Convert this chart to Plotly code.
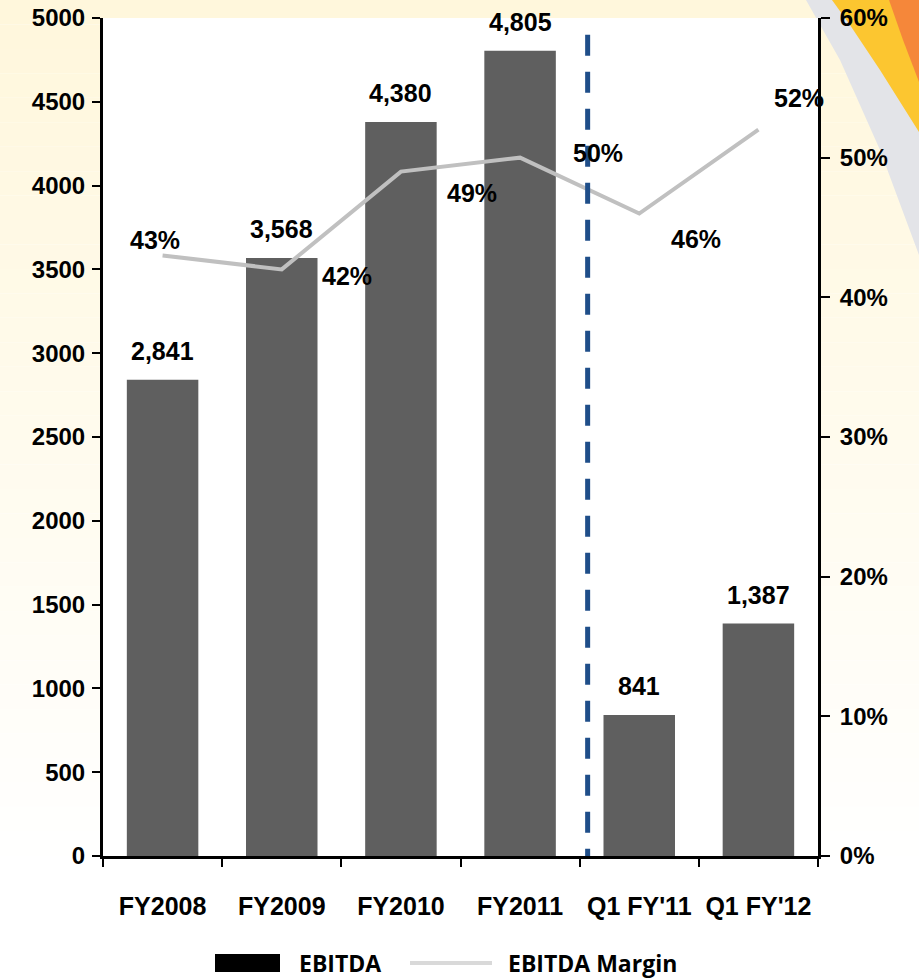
import plotly.graph_objects as go

categories = ["FY2008", "FY2009", "FY2010", "FY2011", "Q1 FY'11", "Q1 FY'12"]
ebitda = [2841, 3568, 4380, 4805, 841, 1387]
ebitda_labels = ["2,841", "3,568", "4,380", "4,805", "841", "1,387"]
margin = [0.43, 0.42, 0.49, 0.50, 0.46, 0.52]
margin_labels = ["43%", "42%", "49%", "50%", "46%", "52%"]
left_ticks = [0, 500, 1000, 1500, 2000, 2500, 3000, 3500, 4000, 4500, 5000]
right_ticks = [0, 0.1, 0.2, 0.3, 0.4, 0.5, 0.6]
right_tick_labels = ["0%", "10%", "20%", "30%", "40%", "50%", "60%"]

# label offsets (pixels) for margin labels
margin_label_shift = [(-8, 15), (65, -7), (71, -21), (78, 5), (57, -25), (41, 32)]

W, H = 919, 978
L, R, T, B = 103, 101, 18, 122
PW, PH = W - L - R, H - T - B

def px(X):
    return (X - L) / PW

def py(Y):
    return (H - B - Y) / PH

FONT = "Liberation Sans, Arial, sans-serif"

fig = go.Figure()
fig.add_trace(go.Bar(
    x=categories, y=ebitda, name="EBITDA",
    marker=dict(color="#5F5F5F", line=dict(width=0)),
    showlegend=False, hoverinfo="x+y",
))
fig.add_trace(go.Scatter(
    x=categories, y=margin, name="EBITDA Margin", yaxis="y2",
    mode="lines", line=dict(color="#C0C0C0", width=4),
    showlegend=False,
))

shapes = []
# background gradient (cream at top -> white at bottom)
n = 40
top = (255, 247, 220)
bot = (255, 255, 255)
for i in range(n):
    t0 = i / n
    t1 = (i + 1) / n
    c = tuple(round(top[k] + (bot[k] - top[k]) * min(1, t0 * 1.15)) for k in range(3))
    shapes.append(dict(type="rect", xref="paper", yref="paper", layer="below",
                       x0=px(0), x1=px(W), y0=py(H * t1), y1=py(H * t0),
                       fillcolor="rgb(%d,%d,%d)" % c, line=dict(width=0)))
# decorative stripes at the top-right corner
def path(points):
    s = "M %f %f" % (px(points[0][0]), py(points[0][1]))
    for X, Y in points[1:]:
        s += " L %f %f" % (px(X), py(Y))
    return s + " Z"

shapes.append(dict(type="path", xref="paper", yref="paper", layer="below",
                   path=path([(806, 0), (919, 0), (919, 255), (880, 150), (840, 60)]),
                   fillcolor="#E3E4E8", line=dict(width=0)))
shapes.append(dict(type="path", xref="paper", yref="paper", layer="below",
                   path=path([(832, 0), (919, 0), (919, 132), (880, 70), (850, 25)]),
                   fillcolor="#FCC630", line=dict(width=0)))
shapes.append(dict(type="path", xref="paper", yref="paper", layer="below",
                   path=path([(889, 0), (919, 0), (919, 82), (903, 40)]),
                   fillcolor="#F5873A", line=dict(width=0)))
# white plot area
shapes.append(dict(type="rect", xref="paper", yref="paper", layer="below",
                   x0=0, x1=1, y0=0, y1=1, fillcolor="white", line=dict(width=0)))
# dashed separator
shapes.append(dict(type="line", xref="x", yref="y", layer="above",
                   x0=3.567, x1=3.567, y0=4900, y1=-40,
                   line=dict(color="#1F4E89", width=5, dash="21px,16px")))
# custom legend
shapes.append(dict(type="rect", xref="paper", yref="paper",
                   x0=px(215), x1=px(280), y0=py(972), y1=py(954),
                   fillcolor="black", line=dict(width=0)))
shapes.append(dict(type="line", xref="paper", yref="paper",
                   x0=px(410), x1=px(492), y0=py(963), y1=py(963),
                   line=dict(color="#D9D9D9", width=4)))

annotations = []
for c, v, lab in zip(categories, ebitda, ebitda_labels):
    annotations.append(dict(x=c, y=v, xref="x", yref="y", text=lab, showarrow=False,
                            yanchor="bottom", yshift=13,
                            font=dict(family=FONT, size=25, color="black", weight="bold")))
for c, v, lab, (dx, dy) in zip(categories, margin, margin_labels, margin_label_shift):
    annotations.append(dict(x=c, y=v, xref="x", yref="y2", text=lab, showarrow=False,
                            xshift=dx, yshift=dy,
                            font=dict(family=FONT, size=25, color="black", weight="bold")))
annotations.append(dict(x=px(297), y=py(963), xref="paper", yref="paper", text="EBITDA",
                        showarrow=False, xanchor="left", yanchor="middle",
                        font=dict(family="Open Sans, sans-serif", size=23, color="black", weight="bold")))
annotations.append(dict(x=px(506), y=py(963), xref="paper", yref="paper", text="EBITDA Margin",
                        showarrow=False, xanchor="left", yanchor="middle",
                        font=dict(family="Open Sans, sans-serif", size=23, color="black", weight="bold")))

fig.update_layout(
    width=W, height=H,
    margin=dict(l=L, r=R, t=T, b=B, pad=0, autoexpand=False),
    paper_bgcolor="white",
    plot_bgcolor="rgba(0,0,0,0)",
    bargap=0.4,
    showlegend=False,
    shapes=shapes,
    annotations=annotations,
    xaxis=dict(
        type="category", categoryorder="array", categoryarray=categories,
        range=[-0.5, 5.5], showgrid=False, zeroline=False, automargin=False,
        showline=True, linecolor="black", linewidth=3,
        ticks="outside", tickson="boundaries", ticklen=8, tickwidth=2, tickcolor="black",
        ticklabelstandoff=26,
        tickfont=dict(family=FONT, size=25, color="black", weight="bold"),
    ),
    yaxis=dict(
        range=[0, 5000], tickvals=left_ticks, showgrid=False, zeroline=False, automargin=False,
        showline=True, linecolor="black", linewidth=3,
        ticks="outside", ticklen=8, tickwidth=2, tickcolor="black",
        ticklabelstandoff=2,
        tickfont=dict(family=FONT, size=24, color="black", weight="bold"),
    ),
    yaxis2=dict(
        range=[0, 0.6], overlaying="y", side="right",
        tickvals=right_ticks, ticktext=right_tick_labels,
        showgrid=False, zeroline=False, automargin=False,
        showline=True, linecolor="black", linewidth=3,
        ticks="outside", ticklen=9, tickwidth=2, tickcolor="black",
        ticklabelstandoff=5,
        tickfont=dict(family=FONT, size=24, color="black", weight="bold"),
    ),
)

fig.write_html("out.html")
